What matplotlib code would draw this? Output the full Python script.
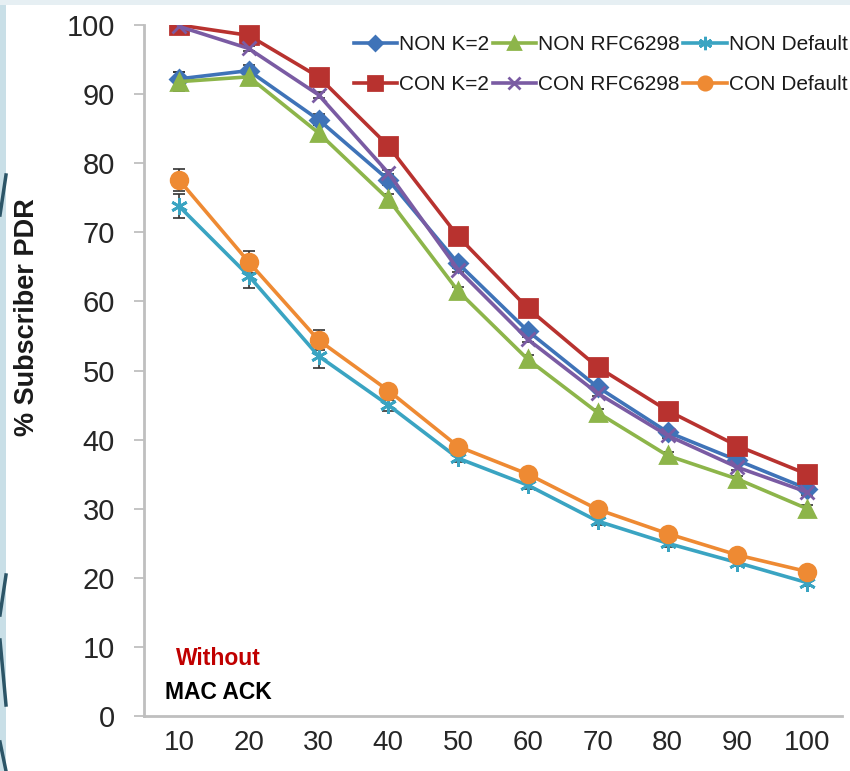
import numpy as np
import matplotlib
matplotlib.use("Agg")
import matplotlib.pyplot as plt
from matplotlib.patches import Rectangle
from matplotlib.lines import Line2D

plt.rcParams['font.family'] = ['Liberation Sans', 'DejaVu Sans']

# data
x = [10, 20, 30, 40, 50, 60, 70, 80, 90, 100]

non_k2 = [92.2, 93.4, 86.3, 77.6, 65.5, 55.7, 47.6, 41.1, 37.0, 32.9]
non_rfc = [91.8, 92.5, 84.4, 74.8, 61.5, 51.6, 43.9, 37.7, 34.3, 30.0]
non_def = [73.8, 63.7, 52.1, 45.0, 37.3, 33.4, 28.2, 25.0, 22.2, 19.3]
con_k2 = [100.0, 98.5, 92.5, 82.5, 69.4, 59.0, 50.5, 44.2, 39.1, 35.0]
con_rfc = [99.8, 96.6, 89.9, 78.6, 64.6, 54.5, 46.7, 40.6, 36.0, 32.4]
con_def = [77.6, 65.7, 54.4, 47.1, 39.0, 35.0, 29.9, 26.4, 23.3, 20.9]

err_non_k2 = [1.0, 0.8, 0.8, 0.8, 0.6, 0.6, 0.5, 0.5, 0.5, 0.5]
err_non_rfc = [1.4, 0.8, 1.2, 0.8, 0.6, 0.6, 0.5, 0.5, 0.5, 0.5]
err_non_def = [1.8, 1.8, 1.8, 0.8, 0.6, 0.6, 0.5, 0.5, 0.5, 0.5]
err_con_k2 = [0.3, 0.3, 0.3, 0.3, 0.3, 0.3, 0.3, 0.3, 0.3, 0.3]
err_con_rfc = [0.4, 0.4, 0.4, 0.4, 0.4, 0.4, 0.4, 0.4, 0.4, 0.4]
err_con_def = [1.6, 1.6, 1.5, 0.8, 0.5, 0.5, 0.5, 0.5, 0.5, 0.5]

fig = plt.figure(figsize=(8.5, 7.71), dpi=100)
fig.patch.set_facecolor('#c9dfe7')

# slide background: white panel, light strip on top/left with dark strokes
fig.add_artist(Rectangle((6/850, 0), 1, 1 - 5/771, transform=fig.transFigure,
                         facecolor='white', edgecolor='none', zorder=0))
fig.add_artist(Rectangle((0, 1 - 5/771), 1, 5/771, transform=fig.transFigure,
                         facecolor='#e6eff3', edgecolor='none', zorder=0))
for (x0, y0), (x1, y1) in [((6, 175), (0, 215)), ((6, 575), (0, 615)),
                           ((0, 640), (6, 705)), ((0, 742), (6, 771))]:
    fig.add_artist(Line2D([x0/850, x1/850], [1 - y0/771, 1 - y1/771],
                          transform=fig.transFigure, color='#2c5567', lw=2.5, zorder=1))

ax = fig.add_axes([144/850, 1 - 716/771, (842 - 144)/850, (716 - 25)/771])
ax.set_facecolor('none')

series = [
    ('NON K=2', non_k2, err_non_k2, '#3f73b8', 'D', 9),
    ('CON K=2', con_k2, err_con_k2, '#b8322f', 's', 13),
    ('NON RFC6298', non_rfc, err_non_rfc, '#8db54a', '^', 11),
    ('CON RFC6298', con_rfc, err_con_rfc, '#7a5ba3', 'x', 10),
    ('NON Default', non_def, err_non_def, '#3aa4c2', (6, 2, 0), 12),
    ('CON Default', con_def, err_con_def, '#ee8a33', 'o', 12),
]

for label, y, e, c, m, ms in series:
    ax.errorbar(x, y, yerr=e, fmt='none', ecolor='#333333', elinewidth=1.2,
                capsize=4, capthick=1.2, zorder=2)
    ax.plot(x, y, color=c, lw=2.6, marker=m, markersize=ms, markeredgewidth=2.0,
            markerfacecolor=c, markeredgecolor=c, label=label, zorder=3)

ax.set_xlim(5, 105)
ax.set_ylim(0, 100)
ax.set_xticks(x)
ax.set_yticks(range(0, 101, 10))
ax.tick_params(axis='y', length=7, width=1.3, color='#bfbfbf', pad=14,
               labelsize=21, labelcolor='#262626')
ax.tick_params(axis='x', length=0, pad=10, labelsize=20, labelcolor='#262626')
for s in ['top', 'right']:
    ax.spines[s].set_visible(False)
for s in ['left', 'bottom']:
    ax.spines[s].set_color('#bfbfbf')
    ax.spines[s].set_linewidth(2)

fig.text(27/850, 1 - 317/771, '% Subscriber PDR', rotation=90, ha='center', va='center',
         fontsize=19.5, fontweight='bold', color='#1a1a1a')

ax.text(15.6, 8.3, 'Without', ha='center', va='center', fontsize=16.5,
        fontweight='bold', color='#c00000')
ax.text(15.6, 3.4, 'MAC ACK', ha='center', va='center', fontsize=16.5,
        fontweight='bold', color='black')

leg = ax.legend(ncol=3, loc='upper right', bbox_to_anchor=(848/850, 1 - 35/771),
                bbox_transform=fig.transFigure, frameon=False, fontsize=15,
                handlelength=2.1, handletextpad=0.1, columnspacing=0.15,
                labelspacing=1.0, borderpad=0, borderaxespad=0, markerscale=0.8)
for t in leg.get_texts():
    t.set_color('#1a1a1a')

fig.savefig('out.png', dpi=100, facecolor=fig.get_facecolor())
